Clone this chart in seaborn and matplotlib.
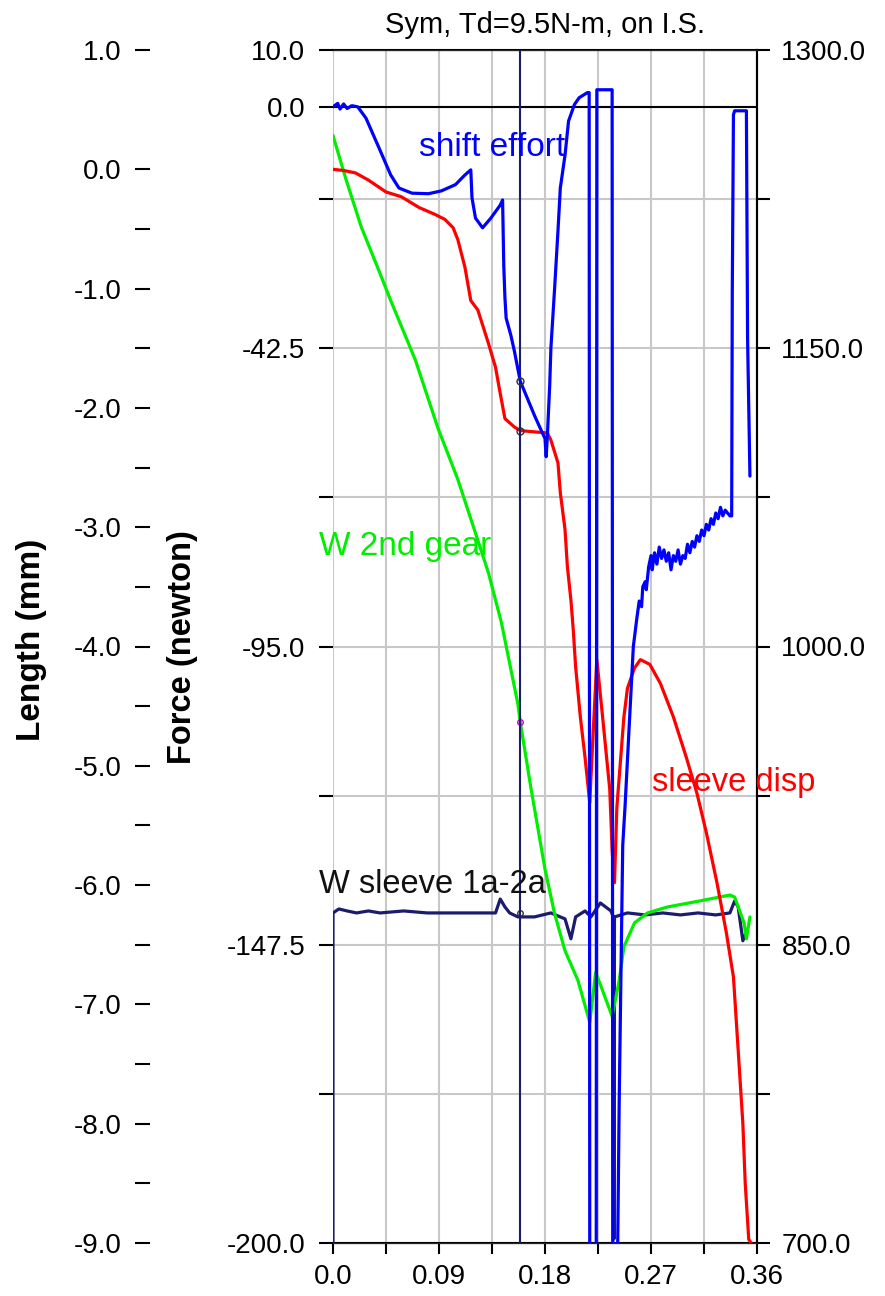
import numpy as np
import pandas as pd
import seaborn as sns
import matplotlib
matplotlib.use('Agg')
import matplotlib.pyplot as plt

# ---- data ----
shift_t = [0.0, 0.004, 0.006, 0.009, 0.012, 0.016, 0.021, 0.028, 0.039, 0.049, 0.056, 0.067, 0.081,
           0.092, 0.104, 0.112, 0.117, 0.118, 0.121, 0.127, 0.134, 0.142, 0.144, 0.145, 0.146, 0.147,
           0.151, 0.154, 0.159, 0.165, 0.171, 0.176, 0.180, 0.181, 0.182, 0.184, 0.185, 0.188, 0.191,
           0.193, 0.197, 0.200, 0.205, 0.209, 0.216, 0.2175, 0.218, 0.2235, 0.224, 0.237, 0.2375,
           0.2415, 0.243, 0.246, 0.248, 0.252, 0.255, 0.258, 0.260, 0.262, 0.263, 0.265, 0.266, 0.268,
           0.270, 0.271, 0.273, 0.275, 0.277, 0.279, 0.281, 0.283, 0.285, 0.287, 0.289, 0.291, 0.293,
           0.295, 0.297, 0.299, 0.301, 0.303, 0.305, 0.307, 0.309, 0.311, 0.313, 0.315, 0.317, 0.319,
           0.321, 0.323, 0.325, 0.327, 0.329, 0.331, 0.333, 0.335, 0.337, 0.3385, 0.339, 0.340, 0.341,
           0.351, 0.352, 0.354]
shift_f = [0.0, 0.6, -0.4, 0.5, -0.3, 0.2, 0.0, -2.0, -7.2, -12.0, -14.3, -15.2, -15.3,
           -14.8, -13.7, -12.0, -11.1, -16.0, -19.6, -21.3, -19.6, -17.3, -16.4, -28.0, -33.7, -37.2,
           -40.2, -43.0, -48.3, -51.3, -54.3, -56.6, -58.4, -61.6, -58.0, -49.0, -42.5, -32.5, -21.9,
           -14.3, -8.5, -2.5, 0.4, 1.6, 2.5, 2.5, -205.0, -205.0, 3.0, 3.0, -205.0,
           -205.0, -175.0, -130.0, -123.0, -107.0, -95.0, -90.0, -87.0, -88.0, -84.5, -83.6, -85.0, -81.0,
           -79.0, -81.5, -78.5, -80.5, -77.5, -79.5, -78.0, -80.0, -78.5, -81.5, -79.0, -80.0, -78.0,
           -80.5, -79.0, -79.5, -77.0, -78.5, -76.5, -77.5, -75.5, -76.5, -74.5, -75.5, -73.5, -74.5,
           -72.5, -73.5, -71.5, -72.5, -70.5, -72.0, -71.0, -71.5, -72.0, -72.0, -33.0, -1.4, -0.7,
           -0.7, -40.7, -65.0]

sleeve_t = [0.0, 0.009, 0.019, 0.030, 0.045, 0.058, 0.073, 0.087, 0.095, 0.102, 0.106, 0.112, 0.117,
            0.123, 0.132, 0.138, 0.142, 0.146, 0.154, 0.159, 0.170, 0.182, 0.185, 0.191, 0.193, 0.197,
            0.199, 0.202, 0.204, 0.206, 0.210, 0.214, 0.218, 0.220, 0.224, 0.229, 0.235, 0.237, 0.239,
            0.241, 0.247, 0.250, 0.256, 0.261, 0.269, 0.278, 0.289, 0.300, 0.309, 0.317, 0.326, 0.334,
            0.340, 0.344, 0.348, 0.350, 0.353, 0.355]
sleeve_disp = [0.0, -0.01, -0.03, -0.09, -0.19, -0.23, -0.32, -0.38, -0.42, -0.49, -0.59, -0.82, -1.10,
               -1.18, -1.46, -1.66, -1.88, -2.09, -2.16, -2.19, -2.20, -2.21, -2.27, -2.46, -2.71, -3.02,
               -3.33, -3.61, -3.86, -4.17, -4.59, -4.93, -5.31, -4.90, -4.11, -4.60, -5.20, -5.71, -5.98,
               -5.35, -4.59, -4.35, -4.18, -4.11, -4.15, -4.31, -4.59, -4.93, -5.23, -5.56, -5.98, -6.40,
               -6.77, -7.38, -8.00, -8.50, -8.97, -9.0]

gear_t = [0.0, 0.011, 0.024, 0.039, 0.049, 0.070, 0.089, 0.106, 0.121, 0.132, 0.143, 0.157, 0.159,
          0.168, 0.180, 0.188, 0.197, 0.208, 0.218, 0.223, 0.227, 0.237, 0.243, 0.247, 0.256, 0.267,
          0.284, 0.311, 0.337, 0.341, 0.349, 0.351, 0.354]
gear_w = [1257, 1235, 1211, 1189, 1174, 1144, 1110, 1084, 1057, 1037, 1012, 971, 962,
          929, 888, 866, 847, 832, 811, 836, 830, 814, 832, 849, 861, 866,
          869, 872, 875, 874, 861, 853, 864]

sleeve_w_t = [0.0, 0.0, 0.005, 0.012, 0.020, 0.030, 0.040, 0.060, 0.080, 0.100, 0.120, 0.138, 0.142,
              0.146, 0.150, 0.157, 0.171, 0.185, 0.197, 0.202, 0.206, 0.214, 0.219, 0.227, 0.236,
              0.2380, 0.2385, 0.2390, 0.250, 0.265, 0.280, 0.295, 0.310, 0.325, 0.337, 0.341, 0.344,
              0.348, 0.350]
sleeve_w = [700, 866, 868, 867, 866, 867, 866, 867, 866, 866, 866, 866, 873,
            869, 866, 864, 864, 866, 863, 853, 864, 867, 864, 871, 867,
            864, 702, 864, 866, 865, 866, 865, 866, 865, 866, 872, 869,
            852, 855]

cursor_t = 0.159

force_ticks = [10.0, 0.0, -42.5, -95.0, -147.5, -200.0]
force_minor = [-16.25, -68.75, -121.25, -173.75]
length_ticks = [1.0, 0.0, -1.0, -2.0, -3.0, -4.0, -5.0, -6.0, -7.0, -8.0, -9.0]
length_minor = [-0.5, -1.5, -2.5, -3.5, -4.5, -5.5, -6.5, -7.5, -8.5]
speed_ticks = [1300.0, 1150.0, 1000.0, 850.0, 700.0]
speed_minor = [1225.0, 1075.0, 925.0, 775.0]
time_ticks = [0.0, 0.09, 0.18, 0.27, 0.36]
time_labels = ['0.0', '0.09', '0.18', '0.27', '0.36']
time_minor = [0.045, 0.135, 0.225, 0.315]

shift_df = pd.DataFrame({'t': shift_t, 'force': shift_f})
sleeve_df = pd.DataFrame({'t': sleeve_t, 'disp': sleeve_disp})
gear_df = pd.DataFrame({'t': gear_t, 'w': gear_w})
sleeve_w_df = pd.DataFrame({'t': sleeve_w_t, 'w': sleeve_w})

sns.set_style('white')
plt.rcParams['font.family'] = ['Liberation Sans', 'DejaVu Sans']
plt.rcParams['text.color'] = 'black'
plt.rcParams['xtick.color'] = 'black'
plt.rcParams['ytick.color'] = 'black'
plt.rcParams['axes.labelcolor'] = 'black'

fig = plt.figure(figsize=(8.85, 12.96), dpi=100)
ax = fig.add_axes([333 / 885, 1 - 1243 / 1296, 424 / 885, 1193 / 1296])

# base axes: force scale, grid, frame
ax.set_xlim(0, 0.36)
ax.set_ylim(-200, 10)
ax.set_xticks(time_ticks)
ax.set_xticklabels(time_labels)
ax.set_xticks(time_minor, minor=True)
ax.set_yticks(force_ticks)
ax.set_yticklabels(['%.1f' % v for v in force_ticks])
ax.set_yticks(force_minor, minor=True)
ax.grid(True, which='both', color='#c8c8c8', lw=1.5)
ax.axhline(0, color='black', lw=1.5, zorder=3)
for s in ['top', 'right', 'bottom']:
    ax.spines[s].set_color('black')
    ax.spines[s].set_linewidth(1.5)
ax.spines['left'].set_visible(False)
ax.tick_params(axis='y', which='both', direction='out', length=10, width=1.5, pad=10,
               labelsize=20, left=True, colors='black')
ax.tick_params(axis='x', which='both', direction='out', length=8, width=1.5, pad=7,
               labelsize=20, bottom=True, colors='black')
ax.set_title('Sym, Td=9.5N-m, on I.S.', fontsize=21, pad=12, color='black')

# right axis: speeds
axR = ax.twinx()
axR.set_ylim(700, 1300)
axR.set_yticks(speed_ticks)
axR.set_yticklabels(['%.1f' % v for v in speed_ticks])
axR.set_yticks(speed_minor, minor=True)
axR.tick_params(axis='y', which='both', direction='out', length=9.5, width=1.5, pad=8,
                labelsize=20, right=True, colors='black')
axR.spines['right'].set_linewidth(1.5)
axR.spines['right'].set_color('black')
axR.spines['left'].set_visible(False)
sns.lineplot(data=sleeve_w_df, x='t', y='w', sort=False, estimator=None, color='#1c1c6e',
             lw=2.3, ax=axR)
sns.lineplot(data=gear_df, x='t', y='w', sort=False, estimator=None, color='#00ee00',
             lw=2.3, ax=axR)
axR.set_ylabel('')
axR.set_xlabel('')

# length axis, offset to the left
axL = ax.twinx()
axL.set_ylim(-9, 1)
axL.spines['left'].set_position(('outward', 132))
axL.spines['left'].set_visible(False)
axL.spines['right'].set_visible(False)
axL.yaxis.set_ticks_position('left')
axL.yaxis.set_label_position('left')
axL.set_yticks(length_ticks)
axL.set_yticklabels(['%.1f' % v for v in length_ticks])
axL.set_yticks(length_minor, minor=True)
axL.tick_params(axis='y', which='both', direction='out', length=11, width=1.5, pad=9,
                labelsize=20, left=True, right=False, colors='black')
sns.lineplot(data=sleeve_df, x='t', y='disp', sort=False, estimator=None, color='#ff0000',
             lw=2.3, ax=axL)
axL.set_ylabel('')
axL.set_xlabel('')

# force curve on top
axF = ax.twinx()
axF.set_ylim(-200, 10)
axF.set_yticks([])
for s in axF.spines.values():
    s.set_visible(False)
axF.axvline(cursor_t, color='#1c1c6e', lw=1.5, zorder=1)
sns.lineplot(data=shift_df, x='t', y='force', sort=False, estimator=None, color='#0000ff',
             lw=2.3, ax=axF)
axF.set_ylabel('')
axF.set_xlabel('')
ax.set_xlim(0, 0.36)

# cursor readouts
axF.plot([cursor_t], [np.interp(cursor_t, shift_t[20:40], shift_f[20:40])], 'o', ms=5,
         mfc='none', mec='#333333', mew=1)
axL.plot([cursor_t], [np.interp(cursor_t, sleeve_t, sleeve_disp)], 'o', ms=5,
         mfc='none', mec='#333333', mew=1)
axR.plot([cursor_t], [np.interp(cursor_t, gear_t, gear_w)], 'o', ms=4,
         mfc='none', mec='#cc00cc', mew=1)
axR.plot([cursor_t], [866], 'o', ms=4, mfc='none', mec='#333333', mew=1)

# curve labels
axF.text(0.0726, -7.2, 'shift effort', color='#0000ff', fontsize=24, va='center', ha='left')
axF.text(-0.012, -77.4, 'W 2nd gear', color='#00ee00', fontsize=24, va='center', ha='left')
axF.text(0.271, -118.9, 'sleeve disp', color='#ff0000', fontsize=23.5, va='center', ha='left')
axF.text(-0.012, -136.9, 'W sleeve 1a-2a', color='#111111', fontsize=23.5, va='center', ha='left')

fig.text(32 / 885, 1 - 640 / 1296, 'Length (mm)', rotation=90, fontsize=24, fontweight='bold',
         ha='center', va='center')
fig.text(182 / 885, 1 - 647 / 1296, 'Force (newton)', rotation=90, fontsize=23.5,
         fontweight='bold', ha='center', va='center')

fig.savefig('out.png', dpi=100)
